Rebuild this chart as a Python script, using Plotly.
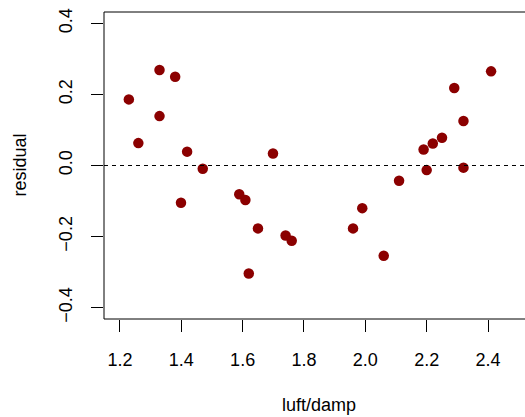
import plotly.graph_objects as go

# Residuals against the luft/damp ratio
luft_damp = [1.229, 1.260, 1.329, 1.329, 1.380, 1.399, 1.419, 1.470, 1.589,
             1.609, 1.620, 1.650, 1.699, 1.740, 1.760, 1.960, 1.990, 2.060,
             2.110, 2.190, 2.200, 2.220, 2.250, 2.290, 2.320, 2.320, 2.410]
residual = [0.186, 0.063, 0.269, 0.139, 0.250, -0.105, 0.039, -0.009, -0.081,
            -0.097, -0.304, -0.177, 0.034, -0.197, -0.212, -0.177, -0.120, -0.254,
            -0.043, 0.045, -0.013, 0.062, 0.078, 0.218, 0.125, -0.006, 0.265]

x_ticks = [1.2, 1.4, 1.6, 1.8, 2.0, 2.2, 2.4]
y_ticks = [-0.4, -0.2, 0.0, 0.2, 0.4]

XLIM = (1.148, 2.552)   # full plotting region
X_VISIBLE_END = 2.5206  # part of the region that fits the page
YLIM = (-0.432, 0.432)

FONT = "Liberation Sans, Arial, Helvetica, sans-serif"
FS = 18

fig = go.Figure()

fig.add_trace(go.Scatter(
    x=luft_damp, y=residual, mode="markers",
    marker=dict(color="#8B0000", size=10.5, line=dict(width=0)),
    showlegend=False, hoverinfo="x+y",
))

# reference line at zero
fig.add_shape(type="line", xref="paper", yref="y", x0=0, x1=1, y0=0, y1=0,
              line=dict(color="black", width=1, dash="4px,4px"))

# plot box (right side lies beyond the page edge)
fig.add_shape(type="rect", xref="paper", yref="paper", x0=0, x1=1.05, y0=0, y1=1,
              line=dict(color="black", width=1), fillcolor="rgba(0,0,0,0)")

fig.update_layout(
    width=525, height=417,
    margin=dict(l=104, r=0, t=12, b=98, pad=0),
    paper_bgcolor="white", plot_bgcolor="white",
    font=dict(family=FONT, size=FS, color="black"),
    xaxis=dict(
        range=[XLIM[0], X_VISIBLE_END], tickvals=x_ticks,
        ticktext=[f"{v:.1f}" for v in x_ticks],
        showgrid=False, zeroline=False, showline=False,
        ticks="outside", ticklen=12, tickwidth=1, tickcolor="black",
        ticklabelstandoff=12,
    ),
    yaxis=dict(
        range=list(YLIM), tickvals=y_ticks,
        ticktext=["\u22120.4", "\u22120.2", "0.0", "0.2", "0.4"],
        tickangle=-90,
        showgrid=False, zeroline=False, showline=False,
        ticks="outside", ticklen=12, tickwidth=1, tickcolor="black",
        ticklabelstandoff=12,
    ),
    annotations=[
        dict(text="luft/damp", xref="x", yref="paper",
             x=(XLIM[0] + XLIM[1]) / 2, y=0, yshift=-86,
             showarrow=False, xanchor="center", yanchor="middle",
             font=dict(family=FONT, size=FS)),
        dict(text="residual", xref="paper", yref="paper",
             x=0, y=0.5, xshift=-85, textangle=-90,
             showarrow=False, xanchor="center", yanchor="middle",
             font=dict(family=FONT, size=FS)),
    ],
)

fig.write_html("out.html")
